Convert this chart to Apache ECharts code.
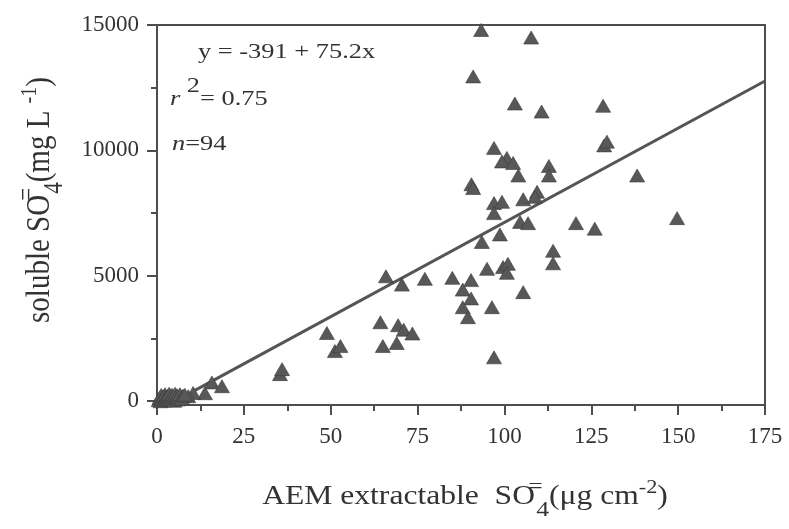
<!DOCTYPE html>
<html><head><meta charset="utf-8">
<script src="https://cdn.jsdelivr.net/npm/echarts@6/dist/echarts.min.js"></script>
<style>html,body{margin:0;padding:0;background:#fff}#c{width:789px;height:529px}</style>
</head><body><div id="c"></div>
<script>
// AEM extractable SO4 (ug cm-2)
const aemX = [93.3,107.7,91,103,110.7,128.4,97,100.7,99.3,102.5,104,112.8,112.8,128.7,129.5,138.2,
  90.5,91,97,99.3,97,105.4,109.4,108.8,104.5,106.8,98.7,93.5,114,114,120.6,126,149.7,
  95,99.6,101,100.7,77.1,85,90.4,88,90.4,88,89.5,96.4,105.4,97,
  65.9,70.5,64.3,69.4,71,73.5,65,69,48.9,51.2,52.8,35.4,36,15.8,18.7,13.8,10.4,9,7.2,
  0.5,0.8,1,1.2,1.5,1.8,2,2.3,2.5,2.8,3,3.3,3.5,3.8,4,4.3,4.5,4.8,5,5.2,5.5,5.8,6,6.3,6.6,7,7.5,8];
// soluble SO4 (mg L-1)
const solubleY = [14800,14500,12950,11870,11550,11780,10100,9700,9560,9500,9000,9380,9000,10200,10350,9000,
  8650,8500,7900,7950,7500,8050,8350,8150,7150,7100,6650,6350,6000,5500,7100,6880,7300,
  5280,5350,5480,5120,4880,4920,4830,4450,4100,3750,3350,3750,4350,1750,
  4980,4650,3150,3030,2850,2700,2200,2320,2720,2000,2200,1080,1280,750,600,320,330,200,180,
  50,150,0,250,100,200,30,280,150,60,220,120,300,40,180,260,90,200,20,300,140,240,70,180,280,100,220,260];
const xMajorTicks = [0,25,50,75,100,125,150,175];
const xMinorTicks = [12.5,37.5,62.5,87.5,112.5,137.5,162.5];
const yMajorTicks = [0,5000,10000,15000];
const yMinorTicks = [2500,7500,12500];
const fitIntercept = -391, fitSlope = 75.2;
const fitRange = [10,175];

const FF = 'Liberation Serif';
const TXT = '#333';
const AX = '#4d4d4d';
const CLEAR = 'rgba(0,0,0,0)';

const points = aemX.map((x,i)=>[x, solubleY[i]]);
const fitLine = fitRange.map(x=>[x, fitIntercept + fitSlope*x]);

const chart = echarts.init(document.getElementById('c'));
chart.setOption({
  animation:false,
  backgroundColor:'#fff',
  grid:{left:157,right:24,top:25,bottom:124,show:true,borderColor:AX,borderWidth:2,backgroundColor:'transparent'},
  xAxis:[
    {type:'value',min:0,max:175,position:'bottom',
      axisLine:{onZero:false,lineStyle:{color:AX,width:2}},
      axisTick:{length:10,customValues:xMajorTicks,lineStyle:{color:AX,width:2}},
      axisLabel:{margin:20,color:TXT,fontFamily:FF,fontSize:23,customValues:xMajorTicks,formatter:v=>String(v)},
      splitLine:{show:false}},
    {type:'value',min:0,max:175,position:'bottom',offset:0,
      axisLine:{show:true,onZero:false,lineStyle:{color:CLEAR}},
      axisTick:{show:true,length:6,customValues:xMinorTicks,lineStyle:{color:AX,width:2}},
      axisLabel:{show:false},
      splitLine:{show:false}}
  ],
  yAxis:[
    {type:'value',min:-150,max:15000,position:'left',
      axisLine:{show:true,onZero:false,lineStyle:{color:AX,width:2}},
      axisTick:{show:true,length:10,customValues:yMajorTicks,lineStyle:{color:AX,width:2}},
      axisLabel:{margin:18,color:TXT,fontFamily:FF,fontSize:23,customValues:yMajorTicks,formatter:v=>String(v)},
      splitLine:{show:false}},
    {type:'value',min:-150,max:15000,position:'left',offset:0,
      axisLine:{show:true,onZero:false,lineStyle:{color:CLEAR}},
      axisTick:{show:true,length:6,customValues:yMinorTicks,lineStyle:{color:AX,width:2}},
      axisLabel:{show:false},
      splitLine:{show:false}}
  ],
  series:[
    {type:'line',xAxisIndex:1,yAxisIndex:1,data:fitLine,symbol:'none',lineStyle:{color:'#555',width:3},z:2,silent:true},
    {type:'scatter',data:points,symbol:'triangle',symbolSize:[15,13],
      itemStyle:{color:'#585858',borderColor:'#3a3a3a',borderWidth:0.6,opacity:1},z:3}
  ],
  graphic:[
    {type:'text',x:198,y:52,scaleX:1.2,style:{text:'y = -391 + 75.2x',fontFamily:FF,fontSize:22,fill:TXT,align:'left',verticalAlign:'middle'}},
    {type:'text',x:170,y:99,scaleX:1.2,style:{text:'{it|r} {sp|2}= 0.75',fontFamily:FF,fontSize:22,fill:TXT,align:'left',verticalAlign:'middle',
      rich:{it:{fontFamily:FF,fontSize:22,fontStyle:'italic',fill:TXT,verticalAlign:'middle'},
            sp:{fontFamily:FF,fontSize:22,fill:TXT,verticalAlign:'middle',padding:[0,0,26,0]}}}},
    {type:'text',x:172,y:144,scaleX:1.2,style:{text:'{it|n}=94',fontFamily:FF,fontSize:22,fill:TXT,align:'left',verticalAlign:'middle',
      rich:{it:{fontFamily:FF,fontSize:22,fontStyle:'italic',fill:TXT,verticalAlign:'middle'}}}},
    {type:'text',x:465,y:497,scaleX:1.17,style:{text:'AEM extractable  SO{eq|=}{sb|4}(μg cm{sp|-2})',fontFamily:FF,fontSize:27,fill:TXT,align:'center',verticalAlign:'middle',
      rich:{eq:{fontFamily:FF,fontSize:22,fill:TXT,width:1,verticalAlign:'middle',padding:[0,0,20,0]},
            sb:{fontFamily:FF,fontSize:22,fill:TXT,verticalAlign:'middle',padding:[26,0,0,0]},
            sp:{fontFamily:FF,fontSize:19,fill:TXT,verticalAlign:'middle',padding:[0,0,18,0]}}}},
    {type:'text',x:40,y:200,rotation:Math.PI/2,scaleY:1.17,style:{text:'soluble SO{eq|=}{sb|4}(mg L {sp|-1})',fontFamily:FF,fontSize:29,fill:TXT,align:'center',verticalAlign:'middle',
      rich:{eq:{fontFamily:FF,fontSize:23,fill:TXT,width:1,verticalAlign:'middle',padding:[0,0,20,0]},
            sb:{fontFamily:FF,fontSize:23,fill:TXT,verticalAlign:'middle',padding:[26,0,0,0]},
            sp:{fontFamily:FF,fontSize:20,fill:TXT,verticalAlign:'middle',padding:[0,0,18,0]}}}}
  ]
});
</script></body></html>
